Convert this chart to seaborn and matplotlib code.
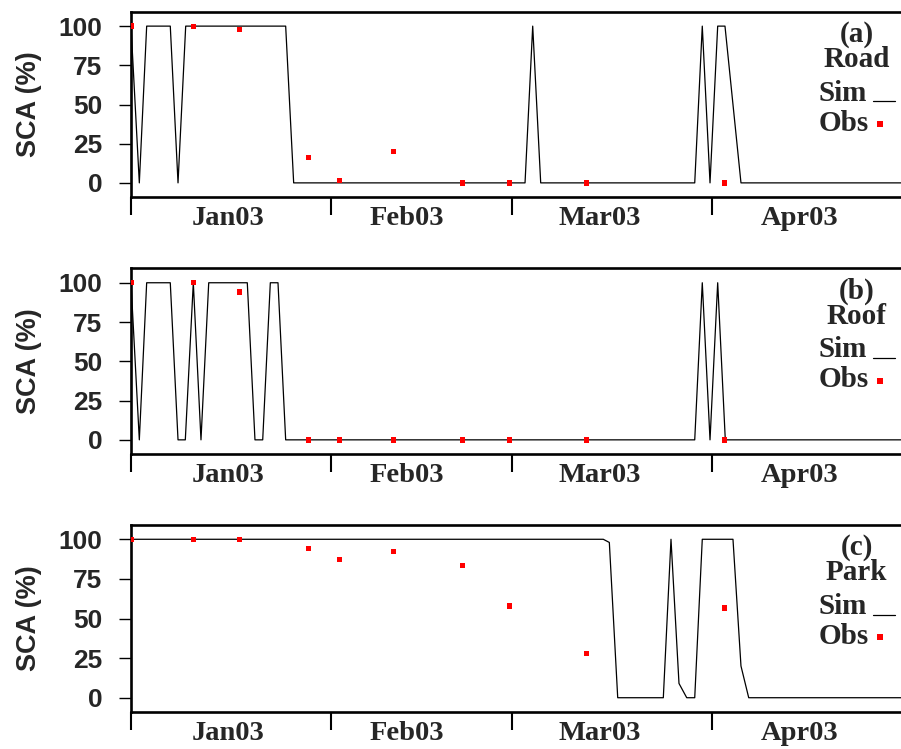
import matplotlib
matplotlib.use("Agg")
import matplotlib.pyplot as plt
import numpy as np
import pandas as pd
import seaborn as sns

# ---------------- data (days since 1 Jan 2003) ----------------
month_ticks = [0, 31, 59, 90]
month_label_pos = [15.0, 42.8, 72.7, 103.6]
month_labels = ["Jan03", "Feb03", "Mar03", "Apr03"]

panel_tags = ["(a)", "(b)", "(c)"]
panel_names = ["Road", "Roof", "Park"]

# simulated SCA (%), breakpoints of the curve
sim_a_day = [0, 1.29, 2.43, 6.09, 7.29, 8.48, 23.98, 25.22, 61.09, 62.28, 63.52,
             87.40, 88.57, 89.77, 90.96, 92.09, 93.33, 94.57, 119.4]
sim_a_val = [100, 0, 100, 100, 0, 100, 100, 0, 0, 100, 0,
             0, 100, 0, 100, 100, 50, 0, 0]

sim_b_day = [0, 1.29, 2.43, 6.09, 7.29, 8.42, 9.66, 10.85, 12.05, 18.03, 19.22,
             20.42, 21.60, 22.79, 23.98, 87.40, 88.57, 89.77, 90.96, 92.14, 119.4]
sim_b_val = [100, 0, 100, 100, 0, 0, 100, 0, 100, 100, 0,
             0, 100, 100, 0, 0, 100, 0, 100, 0, 0]

sim_c_day = [0, 73.22, 74.16, 75.46, 82.53, 83.72, 84.96, 86.16, 87.40, 88.57,
             93.33, 94.57, 95.77, 119.4]
sim_c_val = [100, 100, 98, 0, 0, 100, 9, 0, 0, 100,
             100, 20, 0, 0]

# observed SCA (%)
obs_day = [0, 9.66, 16.8, 27.5, 32.3, 40.7, 51.4, 58.7, 70.6, 92.0]
obs_a = [100, 99.6, 97.7, 16.3, 1.7, 20.2, 0, 0, 0, 0]
obs_b = [100, 100, 94.1, 0, 0, 0, 0, 0, 0, 0]
obs_c = [100, 100, 100, 94.3, 87.2, 92.3, 83.4, 57.9, 27.9, 56.6]

y_ticks = [0, 25, 50, 75, 100]

sims = [(sim_a_day, sim_a_val), (sim_b_day, sim_b_val), (sim_c_day, sim_c_val)]
obss = [obs_a, obs_b, obs_c]

# ---------------- style ----------------
sns.set_style("white")
plt.rcParams["font.family"] = ["Liberation Sans", "DejaVu Sans"]

W, H = 901, 749
fig = plt.figure(figsize=(W / 100, H / 100), dpi=100)

tops = [11.7, 268.3, 524.7]
bots = [197.3, 454.3, 712.3]
left_px, right_px = 131.0, 901.0

serif = ["Liberation Serif", "DejaVu Serif"]
sans = ["Liberation Sans", "DejaVu Sans"]

for i in range(3):
    ax = fig.add_axes([left_px / W, 1 - bots[i] / H,
                       (right_px - left_px) / W, (bots[i] - tops[i]) / H])
    d, v = sims[i]
    sim_df = pd.DataFrame({"day": d, "sca": v})
    obs_df = pd.DataFrame({"day": obs_day, "sca": obss[i]})
    sns.lineplot(data=sim_df, x="day", y="sca", ax=ax, color="black",
                 linewidth=0.9, estimator=None, sort=False, zorder=2)
    sns.scatterplot(data=obs_df, x="day", y="sca", ax=ax, marker="s", s=15,
                    color="#ff0000", edgecolor="none", linewidth=0, zorder=3)

    ax.set_xlim(0, (right_px - left_px) / 6.45)
    ax.set_ylim(-9.2, 109.2)

    for side in ["left", "top", "bottom"]:
        ax.spines[side].set_visible(True)
        ax.spines[side].set_linewidth(1.9)
        ax.spines[side].set_color("black")
    ax.spines["right"].set_visible(False)

    ax.set_yticks(y_ticks)
    ax.set_yticklabels([str(t) for t in y_ticks], fontsize=19,
                       fontweight="bold", family=sans)
    ax.tick_params(axis="y", which="major", direction="out", length=8.6,
                   width=1.0, pad=12, left=True, color="black")

    ax.set_xticks(month_ticks)
    ax.set_xticklabels([""] * len(month_ticks))
    ax.tick_params(axis="x", which="major", direction="out", length=13,
                   width=1.5, bottom=True, color="black")
    ax.set_xticks(month_label_pos, minor=True)
    ax.set_xticklabels(month_labels, minor=True, fontsize=20.5,
                       fontweight="bold", family=serif)
    ax.tick_params(axis="x", which="minor", length=0, pad=6.5)

    ax.set_xlabel("")
    ax.set_ylabel("SCA (%)", fontsize=19.5, fontweight="bold", family=sans)
    ax.yaxis.set_label_coords((41.7 - left_px) / (right_px - left_px), 0.5)

    # legend-like annotation block (positions in pixels from axes top)
    hpx = bots[i] - tops[i]
    wpx = right_px - left_px

    def fx(x):
        return (x - left_px) / wpx

    def fy(off):
        return 1 - off / hpx

    ax.text(fx(856.5), fy(23.0), panel_tags[i], transform=ax.transAxes,
            ha="center", va="center", fontsize=21, fontweight="bold", family=serif)
    ax.text(fx(856.5), fy(55.5), panel_names[i], transform=ax.transAxes,
            ha="center", va="baseline", fontsize=21, fontweight="bold", family=serif)
    ax.text(fx(818.3), fy(89.0), "Sim", transform=ax.transAxes,
            ha="left", va="baseline", fontsize=21, fontweight="bold", family=serif)
    ax.text(fx(818.3), fy(119.0), "Obs", transform=ax.transAxes,
            ha="left", va="baseline", fontsize=21, fontweight="bold", family=serif)
    ax.plot([fx(872.7), fx(895.0)], [fy(89.8), fy(89.8)], transform=ax.transAxes,
            color="black", linewidth=0.9, clip_on=False)
    ax.plot([fx(879.7)], [fy(112.3)], transform=ax.transAxes, marker="s",
            markersize=3.8, color="#ff0000", markeredgewidth=0, linestyle="none",
            clip_on=False)

fig.savefig("out.png", dpi=100)
